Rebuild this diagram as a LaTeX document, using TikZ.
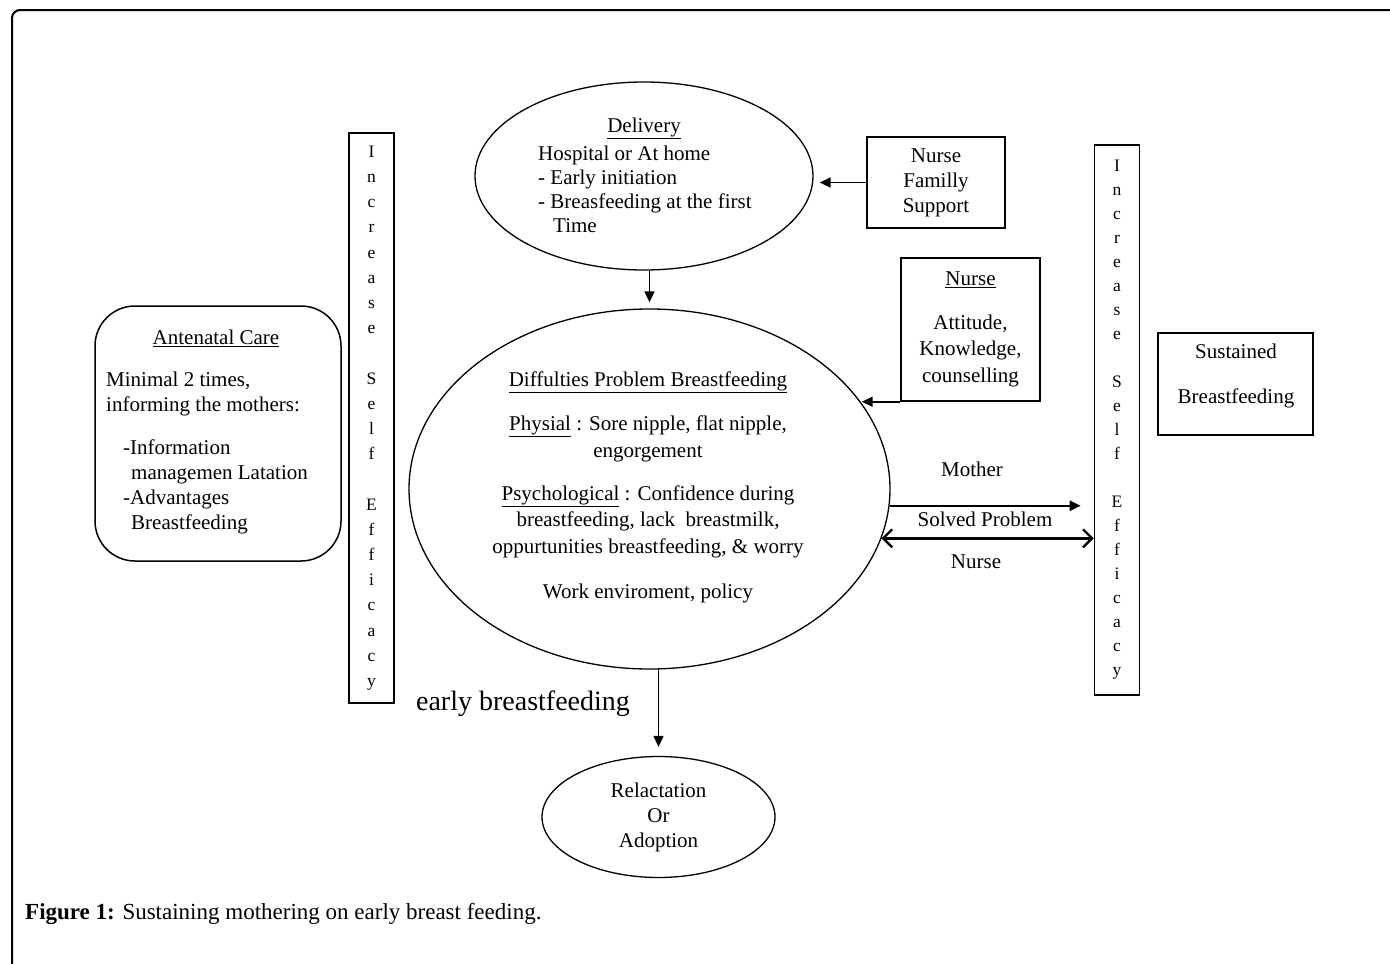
\documentclass[tikz,border=0pt]{standalone}
\usepackage{fontspec}
\setmainfont{Liberation Serif}
\usetikzlibrary{shapes.geometric,arrows.meta}

\begin{document}
\begin{tikzpicture}[x=1pt, y=-1pt,
  txt/.style = {font=\fontsize{21}{25}\selectfont, align=center, inner sep=0},
  box/.style = {draw, line width=1.5pt, inner sep=0},
  oval/.style = {draw, ellipse, line width=1.3pt, inner sep=0},
  bar/.style = {draw, line width=1.6pt, inner sep=0, minimum width=45, align=center, font=\fontsize{17.5}{25.2}\selectfont},
  arrow/.style = {line width=1.6pt, -{Triangle[length=11pt,width=10pt]}}]

  \clip (0,0) rectangle (1390,964);
  \draw[line width=2pt, rounded corners=8pt] (12,10) rectangle (1420,1000);

  % delivery
  \node[oval, minimum width=338, minimum height=188] (delivery) at (644,176) {};
  \node[txt] (deltitle) at (644,128) {\underline{Delivery}};
  \node[txt, align=left, anchor=west, font=\fontsize{21}{24}\selectfont] (delbody) at (538,189)
    {Hospital or At home\\- Early initiation\\- Breasfeeding at the first\\\hspace*{15pt}Time};

  \node[box, txt, minimum width=138, minimum height=91] (famsupport) at (936,182.5) {Nurse\\Familly\\Support};
  \node[box, txt, minimum width=139, minimum height=143, font=\fontsize{21}{26.5}\selectfont] (nurse) at (970.5,329.5)
    {\underline{Nurse}\\[17pt]Attitude,\\Knowledge,\\counselling};

  % problems
  \node[oval, minimum width=481, minimum height=360] (problem) at (649.5,489) {};
  \node[txt, font=\fontsize{21}{26.5}\selectfont] (problemtxt) at (648,487)
    {\underline{Diffulties Problem Breastfeeding}\\[18pt]\underline{Physial} : Sore nipple, flat nipple,\\engorgement\\[16.5pt]\underline{Psychological} : Confidence during\\breastfeeding, lack\ \ breastmilk,\\oppurtunities breastfeeding, \& worry\\[18.5pt]Work enviroment, policy};

  \node[oval, txt, minimum width=233, minimum height=121] (relact) at (658.5,817) {Relactation\\Or\\Adoption};

  % antenatal care
  \node[box, rounded corners=40pt, minimum width=246, minimum height=255] (antenatal) at (218,433.5) {};
  \node[txt] (antetitle) at (216,338) {\underline{Antenatal Care}};
  \node[txt, align=left, anchor=west] (antebody) at (106,453)
    {Minimal 2 times,\\informing the mothers:\\[18pt]\hspace*{17pt}-Information\\\hspace*{25pt}managemen Latation\\\hspace*{17pt}-Advantages\\\hspace*{25pt}Breastfeeding};

  % self efficacy bars
  \node[bar, minimum height=570] (lbar) at (371.5,418)
    {I\\n\\c\\r\\e\\a\\s\\e\\\mbox{}\\S\\e\\l\\f\\\mbox{}\\E\\f\\f\\i\\c\\a\\c\\y};
  \node[bar, minimum height=550, font=\fontsize{17.5}{24}\selectfont] (rbar) at (1117,420)
    {I\\n\\c\\r\\e\\a\\s\\e\\\mbox{}\\S\\e\\l\\f\\\mbox{}\\E\\f\\f\\i\\c\\a\\c\\y};

  \node[box, minimum width=155, minimum height=102] (sustained) at (1235.5,384) {};
  \node[txt, font=\fontsize{21}{45}\selectfont] (sustxt) at (1236,376) {Sustained\\Breastfeeding};

  \node[txt] (motherlbl) at (972,469) {Mother};
  \node[txt] (solvedlbl) at (985,519) {Solved Problem};
  \node[txt] (nurselbl) at (976,562) {Nurse};
  \node[txt, font=\fontsize{28}{30}\selectfont] (earlylbl) at (523,704) {early breastfeeding};

  \node[txt, anchor=west, font=\fontsize{23}{26}\selectfont] (caption) at (25,914)
    {\textbf{Figure 1:} Sustaining mothering on early breast feeding.};

  % connectors
  \draw[arrow, shorten >=6pt] (famsupport.west) -- (famsupport.west -| delivery.east);
  \draw[arrow, shorten >=6pt] (delivery.south -| problem.north) -- (problem.north);
  \draw[arrow] (nurse.south west) -- (nurse.south west -| problem.22.8);
  \draw[arrow, line width=2.4pt, shorten >=13pt] (problem.-4.1) -- (problem.-4.1 -| rbar.west);
  \draw[line width=2.4pt, {Straight Barb[length=9pt,width=18pt]}-{Straight Barb[length=9pt,width=18pt]}]
    (problem.-12.5) -- (problem.-12.5 -| rbar.west);
  \draw[arrow, shorten >=9pt] (problem.south -| relact.north) -- (relact.north);
\end{tikzpicture}
\end{document}
